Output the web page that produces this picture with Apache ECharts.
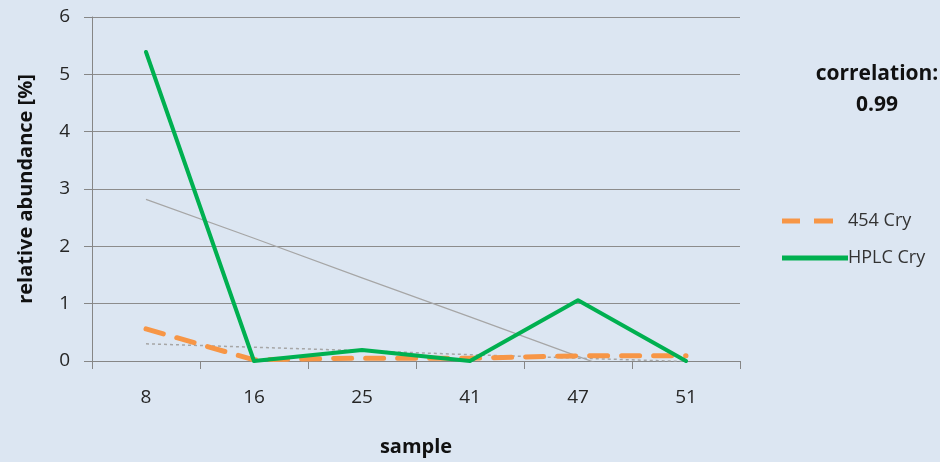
<!DOCTYPE html>
<html><head><meta charset="utf-8">
<script src="https://cdn.jsdelivr.net/npm/echarts@6/dist/echarts.min.js"></script>
<style>html,body{margin:0;padding:0;background:#dce6f2;}#c{width:940px;height:462px;}</style>
</head><body><div id="c"></div>
<script>
const categories = ['8', '16', '25', '41', '47', '51'];
const cry454 = [0.56, 0.02, 0.05, 0.05, 0.09, 0.09];
const hplcCry = [5.39, 0.0, 0.19, 0.0, 1.06, 0.0];
const hplcTrend = [2.82, 2.14, 1.45, 0.77, 0.08, -0.60];
const cry454Trend = [0.30, 0.24, 0.18, 0.11, 0.05, -0.01];
const yTicks = [0, 1, 2, 3, 4, 5, 6];

const FONT = '"Open Sans", sans-serif';
const chart = echarts.init(document.getElementById('c'), null, {renderer: 'canvas'});
chart.setOption({
  backgroundColor: '#dce6f2',
  animation: false,
  textStyle: {fontFamily: FONT},
  grid: {left: 92, right: 200, top: 17, bottom: 101},
  title: [{
    text: 'correlation:\n0.99',
    left: 872, top: 54, textAlign: 'center',
    textStyle: {fontSize: 21, fontWeight: 'bold', color: '#111', lineHeight: 31, fontFamily: FONT, align: 'center'}
  }],
  legend: {
    orient: 'vertical', left: 777, top: 207, itemGap: 19,
    itemWidth: 66, itemHeight: 5,
    data: [
      {name: '454 Cry', icon: 'path://M0,0h18v5h-18z M32,0h19v5h-19z M66,0L66,5', itemStyle: {color: '#f79646'}},
      {name: 'HPLC Cry', icon: 'path://M0,0h66v5h-66z', itemStyle: {color: '#00b050'}}
    ],
    textStyle: {fontSize: 18, color: '#333', fontFamily: FONT, padding: [0, 0, 0, -5]}
  },
  xAxis: {
    type: 'category', data: categories, boundaryGap: true,
    name: 'sample', nameLocation: 'middle', nameGap: 76,
    nameTextStyle: {fontSize: 20, fontWeight: 'bold', color: '#111', fontFamily: FONT},
    axisLine: {lineStyle: {color: '#868686', width: 1}},
    axisTick: {show: true, length: 8, interval: 0, lineStyle: {color: '#868686'}},
    axisLabel: {fontSize: 19, color: '#262626', margin: 27, fontFamily: FONT}
  },
  yAxis: {
    type: 'value', min: 0, max: 6, interval: 1,
    name: 'relative abundance [%]', nameLocation: 'middle', nameGap: 56,
    nameTextStyle: {fontSize: 20, fontWeight: 'bold', color: '#111', fontFamily: FONT},
    axisLine: {show: true, lineStyle: {color: '#868686', width: 1}},
    axisTick: {show: true, length: 8, lineStyle: {color: '#868686'}},
    axisLabel: {fontSize: 19, color: '#262626', margin: 22, fontFamily: FONT,
      formatter: v => yTicks.includes(v) ? String(v) : ''},
    splitLine: {show: true, lineStyle: {color: '#8c8c8c', width: 1}}
  },
  series: [
    {name: 'HPLC trend', type: 'line', data: hplcTrend, symbol: 'none', clip: true, z: 1,
     lineStyle: {color: '#a6a6a6', width: 1.2}, silent: true},
    {name: '454 trend', type: 'line', data: cry454Trend, symbol: 'none', clip: true, z: 1,
     lineStyle: {color: '#a6a6a6', width: 1.5, type: [3, 3]}, silent: true},
    {name: '454 Cry', type: 'line', data: cry454, symbol: 'none', z: 3,
     itemStyle: {color: '#f79646'},
     lineStyle: {color: '#f79646', width: 5, type: [18, 14], cap: 'round'}},
    {name: 'HPLC Cry', type: 'line', data: hplcCry, symbol: 'none', z: 4,
     itemStyle: {color: '#00b050'},
     lineStyle: {color: '#00b050', width: 4, cap: 'round', join: 'round'}}
  ]
});
</script></body></html>
